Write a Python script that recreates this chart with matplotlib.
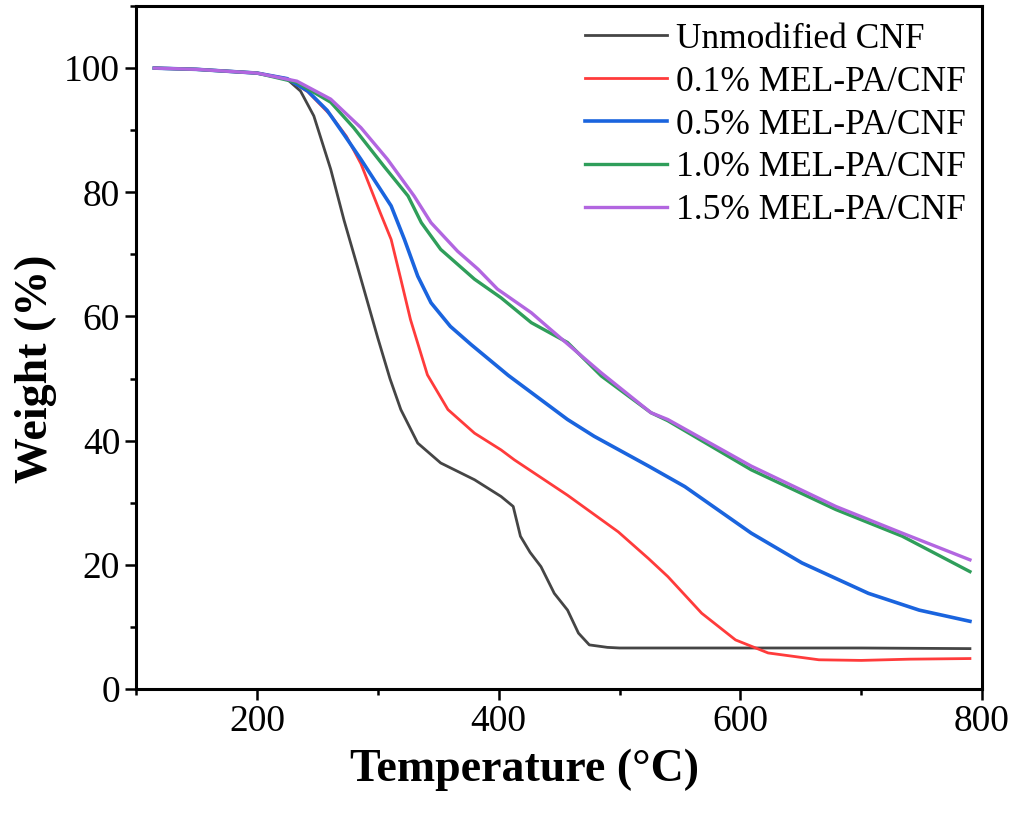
import matplotlib
matplotlib.use('Agg')
import matplotlib.pyplot as plt
from matplotlib.ticker import MultipleLocator

# TGA curves, values
t_cnf = [115, 150, 200, 225, 236, 247, 261, 272, 283, 300, 310, 319, 333, 352, 380,
         402, 412, 418, 426, 435, 446, 457, 466, 475, 490, 500, 600, 700, 790]
w_cnf = [100, 99.8, 99.2, 98.2, 96.3, 92.3, 83.7, 75.5, 68.1, 56.5, 50, 45, 39.6, 36.4, 33.7,
         31, 29.4, 24.6, 22, 19.7, 15.4, 12.7, 9.0, 7.1, 6.7, 6.6, 6.6, 6.6, 6.5]

t_01 = [115, 150, 200, 225, 242, 261, 274, 286, 302, 311, 319, 327, 341, 358, 380, 402,
        413, 457, 499, 524, 540, 568, 596, 623, 665, 700, 740, 790]
w_01 = [100, 99.8, 99.2, 98.3, 96.2, 92.4, 89.0, 84.6, 76.7, 72.4, 66, 59.5, 50.6, 45, 41.2, 38.5,
        36.9, 31.2, 25.3, 21, 18.1, 12.2, 7.9, 5.8, 4.7, 4.6, 4.8, 4.9]

t_05 = [115, 150, 200, 225, 242, 258, 272, 286, 302, 311, 322, 333, 344, 360, 377, 408, 457,
        479, 524, 554, 609, 651, 706, 748, 790]
w_05 = [100, 99.8, 99.2, 98.3, 96.3, 93.2, 89.3, 85.3, 80.5, 77.8, 72.4, 66.5, 62.2, 58.4, 55.5, 50.5, 43.4,
        40.7, 35.9, 32.6, 25.1, 20.3, 15.4, 12.7, 10.9]

t_10 = [115, 150, 200, 233, 261, 280, 305, 325, 336, 352, 380, 402, 427, 457, 485,
        526, 540, 609, 679, 734, 790]
w_10 = [100, 99.8, 99.2, 97.7, 94.5, 90.4, 84.2, 79.4, 75.1, 70.8, 66, 63, 59, 55.8, 50.4,
        44.5, 43.2, 35.3, 28.9, 24.6, 18.9]

t_15 = [115, 150, 200, 233, 261, 286, 308, 330, 344, 366, 383, 399, 427, 443, 485, 526,
        540, 609, 679, 734, 790]
w_15 = [100, 99.8, 99.2, 97.9, 95.0, 90.4, 85.3, 79.4, 75.1, 70.5, 67.6, 64.4, 60.6, 57.9, 50.9, 44.5,
        43.4, 35.9, 29.4, 25.1, 20.8]

labels = ['Unmodified CNF', '0.1% MEL-PA/CNF', '0.5% MEL-PA/CNF',
          '1.0% MEL-PA/CNF', '1.5% MEL-PA/CNF']

plt.rcParams['font.family'] = ['Liberation Serif', 'DejaVu Serif']

fig = plt.figure(figsize=(10.24, 8.14), dpi=100)
ax = fig.add_axes([0.133, 0.1536, 0.826, 0.839])

ax.plot(t_cnf, w_cnf, color='#454545', lw=2.0, label=labels[0])
ax.plot(t_01, w_01, color='#ff3b3b', lw=2.0, label=labels[1])
ax.plot(t_05, w_05, color='#1a64de', lw=2.6, label=labels[2])
ax.plot(t_10, w_10, color='#2f9e5a', lw=2.4, label=labels[3])
ax.plot(t_15, w_15, color='#b266e0', lw=2.4, label=labels[4])

ax.set_xlim(100, 800)
ax.set_ylim(0, 110)
ax.xaxis.set_major_locator(MultipleLocator(200))
ax.xaxis.set_minor_locator(MultipleLocator(100))
ax.yaxis.set_major_locator(MultipleLocator(20))
ax.yaxis.set_minor_locator(MultipleLocator(10))
ax.tick_params(which='major', direction='out', length=8, width=1.8, labelsize=27)
ax.tick_params(which='minor', direction='out', length=4, width=1.8)
for s in ax.spines.values():
    s.set_linewidth(2.2)

ax.set_xlabel('Temperature (°C)', fontsize=33, fontweight='bold', va='center')
ax.set_ylabel('Weight (%)', fontsize=33, fontweight='bold', va='center')
ax.xaxis.set_label_coords(0.459, -0.119)
ax.yaxis.set_label_coords(-0.119, 0.469)

ax.legend(loc='upper left', bbox_to_anchor=(0.531, 0.9756), frameon=False, fontsize=25.5,
          handlelength=2.3, handletextpad=0.26, labelspacing=0.28, borderaxespad=0,
          borderpad=0)

plt.savefig('out.png', dpi=100)
